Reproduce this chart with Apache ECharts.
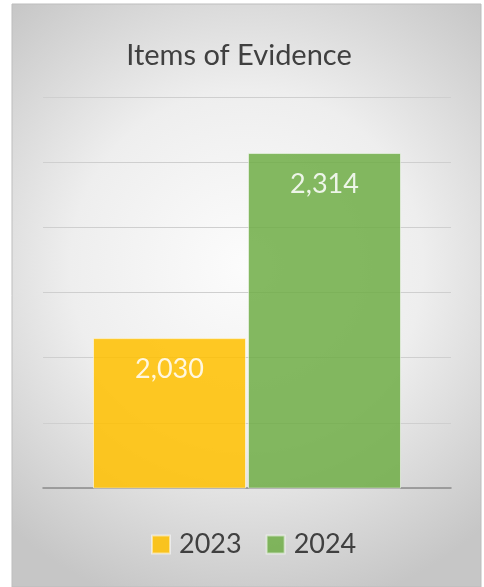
<!DOCTYPE html>
<html>
<head>
<meta charset="utf-8">
<script src="https://cdn.jsdelivr.net/npm/echarts@6/dist/echarts.min.js"></script>
<style>
  html, body { margin: 0; padding: 0; background: #ffffff; }
  #chart { width: 484px; height: 587px; }
</style>
</head>
<body>
<div id="chart"></div>
<script>
const categories = [""];
const seriesNames = ["2023", "2024"];
const values2023 = [2030];
const values2024 = [2314];

const chart = echarts.init(document.getElementById("chart"));

const labelStyle = {
  show: true,
  position: "insideTop",
  distance: 18,
  color: "#ffffff",
  fontFamily: "Lato",
  fontSize: 27,
  formatter: (p) => p.value.toLocaleString("en-US"),
};

const options = {
  backgroundColor: "#ffffff",
  animation: false,
  graphic: [
    {
      type: "rect",
      z: -10,
      shape: { x: 12, y: 4, width: 469, height: 583 },
      style: {
        fill: {
          type: "radial",
          x: 0.5,
          y: 0.45,
          r: 0.75,
          colorStops: [
            { offset: 0, color: "#fcfcfc" },
            { offset: 0.5, color: "#eeeeee" },
            { offset: 1, color: "#c6c6c6" },
          ],
        },
        stroke: "#bdbdbd",
        lineWidth: 1,
      },
    },
  ],
  title: {
    text: "Items of Evidence",
    left: 234,
    textAlign: "center",
    top: 36,
    textStyle: {
      fontFamily: "Lato",
      fontWeight: "normal",
      fontSize: 29,
      color: "#404040",
    },
  },
  legend: {
    data: seriesNames,
    bottom: 24,
    left: 146,
    itemWidth: 18,
    itemHeight: 18,
    itemGap: 24,
    icon: "rect",
    textStyle: {
      fontFamily: "Lato",
      fontSize: 27,
      color: "#404040",
      padding: [0, 0, 0, 4],
    },
  },
  grid: { left: 43, right: 33, top: 97, bottom: 99 },
  xAxis: {
    type: "category",
    data: categories,
    axisLine: { lineStyle: { color: "#8a8a8a", width: 1.5 } },
    axisTick: { show: false },
    axisLabel: { show: false },
  },
  yAxis: {
    type: "value",
    min: 1800,
    max: 2400,
    interval: 100,
    axisLabel: { show: false },
    axisLine: { show: false },
    axisTick: { show: false },
    splitLine: { lineStyle: { color: "#cfcfcf", width: 1 } },
  },
  series: [
    {
      name: seriesNames[0],
      type: "bar",
      data: values2023,
      barWidth: 153,
      barGap: "1.3%",
      itemStyle: {
        color: "#ffc000",
        opacity: 0.86,
        borderColor: "rgba(255,255,255,0.6)",
        borderWidth: 1,
      },
      label: labelStyle,
    },
    {
      name: seriesNames[1],
      type: "bar",
      data: values2024,
      barWidth: 153,
      itemStyle: {
        color: "#70ad47",
        opacity: 0.86,
        borderColor: "rgba(255,255,255,0.6)",
        borderWidth: 1,
      },
      label: labelStyle,
    },
  ],
};

chart.setOption(options);
</script>
</body>
</html>
